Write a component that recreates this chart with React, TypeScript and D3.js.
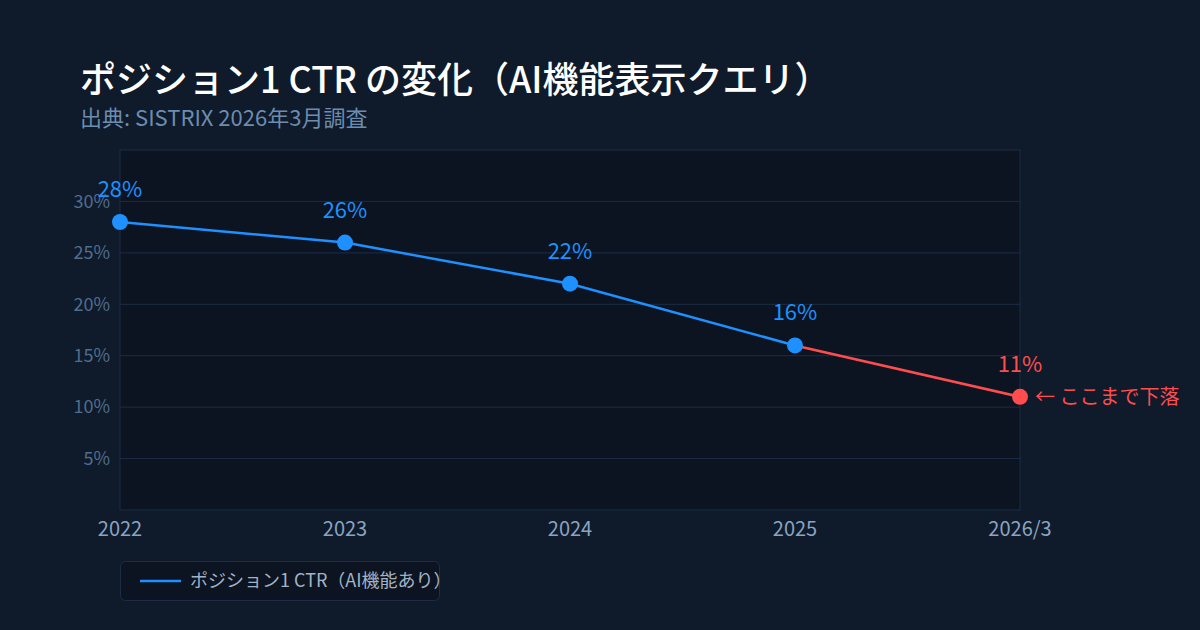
import React from 'react';
import * as d3 from 'd3';

const periods = ['2022', '2023', '2024', '2025', '2026/3'];
const ctrValues = [28, 26, 22, 16, 11];
const yTicks = [5, 10, 15, 20, 25, 30];

const W = 1200;
const H = 630;
const plot = { left: 120, right: 1020, top: 150, bottom: 510 };
const FONT = '"Noto Sans CJK JP", "Noto Sans", sans-serif';
const BLUE = '#1e90ff';
const RED = '#ff4d4f';
const GRID = '#1d2c47';

export default function App() {
  const x = d3.scalePoint<string>().domain(periods).range([plot.left, plot.right]);
  const y = d3.scaleLinear().domain([0, 35]).range([plot.bottom, plot.top]);

  const pts = periods.map((p, i) => ({ p, v: ctrValues[i], x: x(p)!, y: y(ctrValues[i]) }));
  const line = d3.line<{ x: number; y: number }>().x((d) => d.x).y((d) => d.y);
  const last = pts.length - 1;

  return (
    <svg width={W} height={H} style={{ position: 'absolute', left: 0, top: 0, fontFamily: FONT }}>
      <rect width={W} height={H} fill="#0f1a2a" />
      <text x={80} y={93} fill="#ffffff" fontSize={36} fontWeight={500}>
        ポジション1 CTR の変化（AI機能表示クエリ）
      </text>
      <text x={80} y={126} fill="#6c8db0" fontSize={22}>
        出典: SISTRIX 2026年3月調査
      </text>

      <rect x={plot.left} y={plot.top} width={plot.right - plot.left} height={plot.bottom - plot.top}
        fill="#0b1420" stroke={GRID} strokeWidth={1} />
      {yTicks.map((t) => (
        <g key={t}>
          <line x1={plot.left} x2={plot.right} y1={y(t)} y2={y(t)} stroke={GRID} strokeWidth={1} />
          <text x={110} y={y(t)} dy="0.35em" textAnchor="end" fill="#4f6d8e" fontSize={18}>{t}%</text>
        </g>
      ))}
      {periods.map((p) => (
        <text key={p} x={x(p)} y={536} textAnchor="middle" fill="#8aa5c2" fontSize={20}>{p}</text>
      ))}

      <path d={line(pts.slice(0, last))!} fill="none" stroke={BLUE} strokeWidth={2.5} />
      <path d={line(pts.slice(last - 1))!} fill="none" stroke={RED} strokeWidth={2.5} />
      {pts.map((d, i) => {
        const c = i === last ? RED : BLUE;
        return (
          <g key={d.p}>
            <circle cx={d.x} cy={d.y} r={8} fill={c} />
            <text x={d.x} y={d.y - 25} textAnchor="middle" fill={c} fontSize={22}>{d.v}%</text>
          </g>
        );
      })}
      <text x={pts[last].x + 15} y={pts[last].y} dy="0.35em" fill={RED} fontSize={20}>← ここまで下落</text>

      <rect x={120.5} y={561.5} width={319} height={39} rx={5} fill="#0b1420" stroke={GRID} />
      <line x1={140} x2={181} y1={581} y2={581} stroke={BLUE} strokeWidth={2.5} />
      <text x={190} y={581} dy="0.35em" fill="#a3b3c7" fontSize={18}>ポジション1 CTR（AI機能あり）</text>
    </svg>
  );
}
